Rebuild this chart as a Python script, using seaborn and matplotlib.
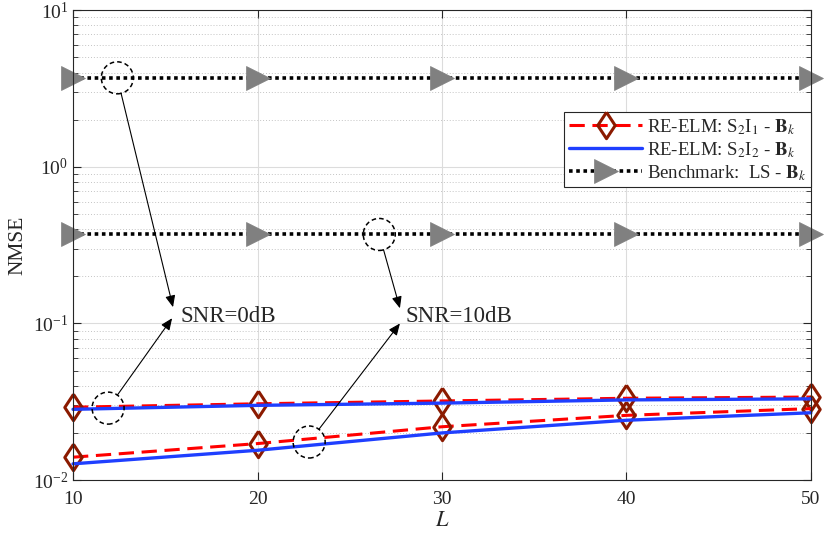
import matplotlib
matplotlib.use("Agg")
import matplotlib.pyplot as plt
import matplotlib.transforms as mtransforms
from matplotlib.patches import Circle
import seaborn as sns

# data
L = [10, 20, 30, 40, 50]
s2i1_0db = [0.0292, 0.0307, 0.0320, 0.0333, 0.0339]
s2i2_0db = [0.0283, 0.0300, 0.0310, 0.0325, 0.0330]
s2i1_10db = [0.0140, 0.0171, 0.0219, 0.0259, 0.0286]
s2i2_10db = [0.0127, 0.0155, 0.0200, 0.0241, 0.0269]
ls_0db = [3.7, 3.7, 3.7, 3.7, 3.7]
ls_10db = [0.37, 0.37, 0.37, 0.37, 0.37]

labels = [
    r"RE-ELM: S$_2$I$_1$ - $\mathbf{B}_k$",
    r"RE-ELM: S$_2$I$_2$ - $\mathbf{B}_k$",
    r"Benchmark:  LS - $\mathbf{B}_k$",
]

# annotation helpers (data coords)
circle_centers = [(12.4, 3.7), (11.9, 0.0288), (26.6, 0.37), (22.8, 0.0175)]
arrow_tips = [(15.42, 0.127), (15.37, 0.108), (27.72, 0.125), (27.72, 0.100)]
snr_text = [(15.8, 0.11, "SNR=0dB"), (28.0, 0.11, "SNR=10dB")]

sns.set_theme(style="ticks")
plt.rcParams["font.family"] = ["Liberation Serif", "DejaVu Serif"]
plt.rcParams["mathtext.fontset"] = "stix"

fig, ax = plt.subplots(figsize=(8.3, 5.37), dpi=100)
fig.subplots_adjust(left=0.088, right=0.977, bottom=0.106, top=0.981)

# matlab-style diamond, a bit wider than mpl's thin diamond
diamond = [(0, 1), (0.66, 0), (0, -1), (-0.66, 0), (0, 1)]

red_kw = dict(color="#ff0000", linestyle=(0, (5, 2.5)), linewidth=2.2,
              marker=diamond, markersize=19, markerfacecolor="none",
              markeredgecolor="#8b1a00", markeredgewidth=2.2, clip_on=False)
blue_kw = dict(color="#1f3fff", linewidth=2.4, clip_on=False)
bench_kw = dict(color="black", linestyle=(0, (1, 1)), linewidth=2.6,
                marker=">", markersize=17, markerfacecolor="#808080",
                markeredgecolor="#808080", markeredgewidth=0.5, clip_on=False)

sns.lineplot(x=L, y=s2i1_0db, ax=ax, label=labels[0], **red_kw)
sns.lineplot(x=L, y=s2i1_10db, ax=ax, **red_kw)
sns.lineplot(x=L, y=s2i2_0db, ax=ax, label=labels[1], **blue_kw)
sns.lineplot(x=L, y=s2i2_10db, ax=ax, **blue_kw)
sns.lineplot(x=L, y=ls_0db, ax=ax, label=labels[2], **bench_kw)
sns.lineplot(x=L, y=ls_10db, ax=ax, **bench_kw)

ax.set_yscale("log")
ax.set_xlim(10, 50)
ax.set_ylim(1e-2, 1e1)
ax.set_xticks(L)

ax.set_axisbelow(True)
ax.grid(True, which="major", color="#dcdcdc", linewidth=0.8, linestyle="-")
ax.yaxis.grid(True, which="minor", color="#c4c4c4", linewidth=0.7, linestyle=(0, (1, 2)))
ax.xaxis.grid(False, which="minor")

ax.tick_params(which="both", direction="in", top=True, right=True,
               colors="#262626", labelsize=14)
ax.tick_params(which="major", length=6, width=0.8)
ax.tick_params(which="minor", length=3.5, width=0.6)
ax.tick_params(axis="x", pad=8)
for s in ax.spines.values():
    s.set_color("#262626")
    s.set_linewidth(0.8)

ax.set_xlabel("$L$", fontsize=16, color="#262626", labelpad=3)
ax.set_ylabel("NMSE", fontsize=15.5, color="#262626", labelpad=4)

# dashed circles, arrows and SNR labels
for cx, cy in circle_centers:
    trans = fig.dpi_scale_trans + mtransforms.ScaledTranslation(cx, cy, ax.transData)
    ax.add_patch(Circle((0, 0), 0.16, transform=trans, fill=False, edgecolor="black",
                        linewidth=1.1, linestyle=(0, (3, 2)), clip_on=False, zorder=5))

for (cx, cy), tip in zip(circle_centers, arrow_tips):
    ax.annotate("", xy=tip, xytext=(cx, cy),
                arrowprops=dict(arrowstyle="-|>,head_length=0.7,head_width=0.3",
                                color="black", lw=0.8, shrinkA=11.5, shrinkB=0,
                                mutation_scale=10))

for tx, ty, t in snr_text:
    ax.text(tx, ty, t, fontsize=16.5, ha="left", va="center")

leg = ax.legend(loc="upper right", bbox_to_anchor=(1.0, 0.783), borderaxespad=0,
                fancybox=False, edgecolor="#262626", framealpha=1, fontsize=13.5,
                handlelength=3.9, handletextpad=0.25, labelspacing=0.18, borderpad=0.25)
leg.get_frame().set_linewidth(0.8)

plt.savefig("out.png", dpi=100)
